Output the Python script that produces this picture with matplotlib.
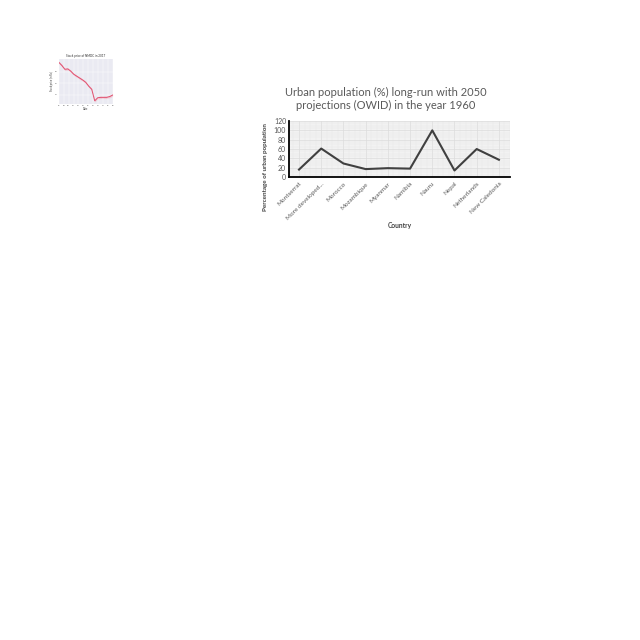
import matplotlib
matplotlib.use('Agg')
import matplotlib.pyplot as plt
from matplotlib.ticker import MultipleLocator

# main chart data
countries = ['Montserrat', 'More developed...', 'Morocco', 'Mozambique', 'Myanmar',
             'Namibia', 'Nauru', 'Nepal', 'Netherlands', 'New Caledonia']
urban_pct = [16, 61, 29, 17, 19, 18, 100, 14, 60, 37]
y_ticks = [0, 20, 40, 60, 80, 100, 120]

# small thumbnail chart data (estimated)
thumb_x = list(range(19))
thumb_y = [104, 96, 86, 87, 81, 73, 68, 63, 58, 52, 42, 34, 4, 12, 13, 13, 13, 15, 19]
thumb_ticks = ['01', '02', '03', '04', '05', '06', '07', '08', '09', '10', '11', '12']

plt.rcParams['font.family'] = ['Lato', 'DejaVu Sans']

fig = plt.figure(figsize=(6.4, 6.4), dpi=100)

# --- thumbnail in the corner ---
ax2 = fig.add_axes([0.092, 0.8375, 0.084, 0.070])
ax2.set_facecolor('#eaeaf2')
ax2.fill_between(thumb_x, [v - 3 for v in thumb_y], [v + 3 for v in thumb_y],
                 color='#f4a7b9', alpha=0.5, lw=0)
ax2.plot(thumb_x, thumb_y, color='#e0506e', lw=0.7)
ax2.set_xlim(0, 18)
ax2.grid(color='white', lw=0.3)
for s in ax2.spines.values():
    s.set_visible(False)
ax2.set_xticks([i * 18 / 11 for i in range(12)])
ax2.set_xticklabels(thumb_ticks, fontsize=1.5, color='#555555')
ax2.set_yticks([20, 50, 80])
ax2.tick_params(labelsize=1.5, length=0, pad=1, colors='#555555')
ax2.set_title('Stock price of NMDC in 2017', fontsize=2.2, pad=1.5, color='#333333')
ax2.set_xlabel('Date', fontsize=1.8, labelpad=0.5, color='#333333')
ax2.set_ylabel('Stock price (in Rs)', fontsize=1.8, labelpad=0.5, color='#333333')

# --- main chart ---
ax = fig.add_axes([0.4516, 0.7234, 0.3453, 0.0875])
x = range(len(countries))
ax.set_facecolor('#f2f2f2')
ax.plot(x, urban_pct, color='#404040', lw=1.5)
ax.set_xlim(-0.45, 9.5)
ax.set_ylim(0, 120)
ax.set_yticks(y_ticks)
ax.set_xticks(list(x))
ax.set_xticklabels(countries, rotation=45, ha='right', rotation_mode='anchor',
                   fontsize=4.6, color='#595959')
ax.tick_params(axis='y', labelsize=5, colors='#595959', length=0, pad=2)
ax.tick_params(axis='x', length=0, pad=3)
ax.yaxis.set_minor_locator(MultipleLocator(5))
ax.xaxis.set_minor_locator(MultipleLocator(0.25))
ax.grid(which='major', color='#dcdcdc', lw=0.5)
ax.grid(which='minor', color='#e6e6e6', lw=0.3)
ax.tick_params(which='minor', length=0)
ax.set_axisbelow(True)
ax.spines['top'].set_visible(False)
ax.spines['right'].set_visible(False)
ax.spines['left'].set_linewidth(1.3)
ax.spines['bottom'].set_linewidth(1.3)
ax.set_xlabel('Country', fontsize=4.8, fontweight='bold', color='#404040')
ax.xaxis.set_label_coords(0.5, -0.8)
ax.set_ylabel('Percentage of urban population', fontsize=4.5, fontweight='bold',
              color='#404040')
ax.yaxis.set_label_coords(-0.095, 0.17)

# title is centred over the whole chart area, not just the plot
fig.text(386 / 640, 1 - 99 / 640,
         'Urban population (%) long-run with 2050\nprojections (OWID) in the year 1960',
         fontsize=8.0, color='#595959', ha='center', va='center', linespacing=1.3)

plt.savefig('out.png', dpi=100)
plt.close()
